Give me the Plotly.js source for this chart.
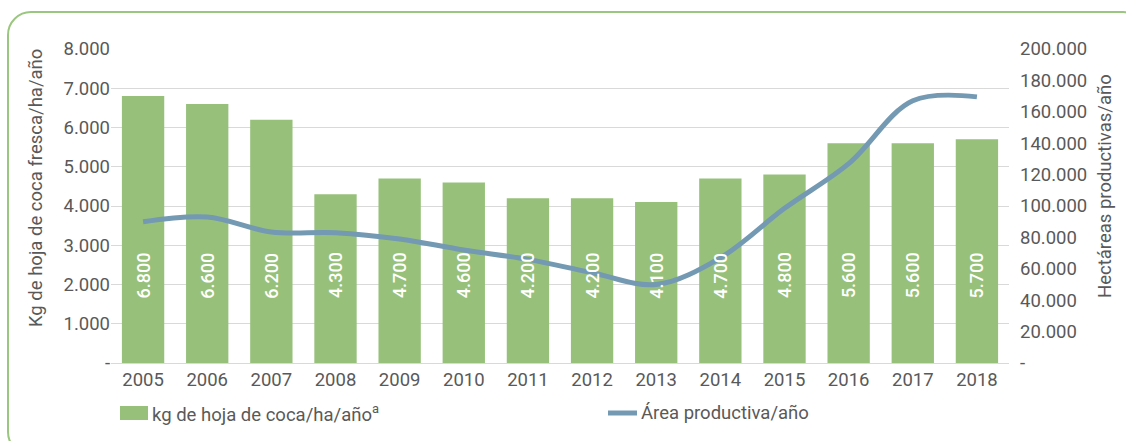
<!DOCTYPE html>
<html><head><meta charset="utf-8">
<script src="https://cdn.plot.ly/plotly-3.0.1.min.js"></script>
<style>
html,body{margin:0;padding:0;background:#fff;overflow:hidden;}
#frame{position:absolute;left:7px;top:11px;width:1140px;height:445px;border:2px solid #9bc67f;border-radius:24px;box-sizing:border-box;}
#chart{position:absolute;left:0;top:0;width:1126px;height:441px;}
</style></head>
<body>
<div id="frame"></div>
<div id="chart"></div>
<script>
var years = [2005,2006,2007,2008,2009,2010,2011,2012,2013,2014,2015,2016,2017,2018];
var kgValues = [6800,6600,6200,4300,4700,4600,4200,4200,4100,4700,4800,5600,5600,5700];
var areaValues = [90000,93000,83500,83000,79000,72000,66000,57500,50000,67000,98500,127000,167000,169500];
var leftTickVals = [0,1000,2000,3000,4000,5000,6000,7000,8000];
var leftTickText = ['-','1.000','2.000','3.000','4.000','5.000','6.000','7.000','8.000'];
var rightTickVals = [0,20000,40000,60000,80000,100000,120000,140000,160000,180000,200000];
var rightTickText = ['-','20.000','40.000','60.000','80.000','100.000','120.000','140.000','160.000','180.000','200.000'];
var barName = 'kg de hoja de coca/ha/año<sup>a</sup>';
var lineName = 'Área productiva/año';
var leftTitle = 'Kg de hoja de coca fresca/ha/año';
var rightTitle = 'Hectáreas productivas/año';

function fmt(v){ return String(v).replace(/\B(?=(\d{3})+(?!\d))/g,'.'); }

var W = 1126, H = 441, L = 111, R = 117, T = 49, B = 78;
function px(x){ return (x - L) / (W - L - R); }
function py(y){ return (H - B - y) / (H - T - B); }

var font = {family:'Roboto, sans-serif', size:18.5, color:'#595959'};

var bars = {
  type:'bar', x:years, y:kgValues, name:barName, width:0.66,
  marker:{color:'#97c17b'}, hoverinfo:'none', showlegend:false
};
var line = {
  type:'scatter', mode:'lines', x:years, y:areaValues, yaxis:'y2', showlegend:false,
  name:lineName, line:{color:'#7399b3', width:5, shape:'spline', smoothing:1}
};

var annotations = years.map(function(yr,i){
  return {x:yr, y:2230, xref:'x', yref:'y', text:fmt(kgValues[i]), textangle:-90,
    showarrow:false, font:{family:'Roboto, sans-serif', size:18, color:'#ffffff', weight:500}};
});
annotations.push({xref:'paper', yref:'paper', x:px(36), y:py(188), text:leftTitle, textangle:-90,
  showarrow:false, font:font, xanchor:'center', yanchor:'middle'});
annotations.push({xref:'paper', yref:'paper', x:px(1105), y:py(186), text:rightTitle, textangle:-90,
  showarrow:false, font:font, xanchor:'center', yanchor:'middle'});
annotations.push({xref:'paper', yref:'paper', x:px(150), y:py(413), text:barName,
  showarrow:false, font:font, xanchor:'left', yanchor:'middle'});
annotations.push({xref:'paper', yref:'paper', x:px(639), y:py(413), text:lineName,
  showarrow:false, font:font, xanchor:'left', yanchor:'middle'});

var shapes = [
  {type:'rect', xref:'paper', yref:'paper', x0:px(120), x1:px(148), y0:py(420), y1:py(406),
    fillcolor:'#97c17b', line:{width:0}},
  {type:'line', xref:'paper', yref:'paper', x0:px(608), x1:px(637), y0:py(413), y1:py(413),
    line:{color:'#7399b3', width:5}}
];

var layout = {
  width:W, height:H,
  margin:{l:L, r:R, t:T, b:B},
  paper_bgcolor:'rgba(0,0,0,0)', plot_bgcolor:'rgba(0,0,0,0)',
  font:font,
  showlegend:false,
  xaxis:{range:[2004.5,2018.5], tickvals:years, ticktext:years.map(String), tickfont:font,
    showgrid:false, showline:true, linecolor:'#d9d9d9', linewidth:1, ticks:'', zeroline:false},
  yaxis:{range:[0,8000], tickvals:leftTickVals, ticktext:leftTickText, tickfont:font,
    gridcolor:'#d9d9d9', gridwidth:1, zeroline:false},
  yaxis2:{range:[0,200000], tickvals:rightTickVals, ticktext:rightTickText, tickfont:font,
    overlaying:'y', side:'right', showgrid:false, zeroline:false, ticklabelstandoff:10},
  annotations:annotations,
  shapes:shapes
};

Plotly.newPlot('chart',[bars,line],layout,{displayModeBar:false, staticPlot:true});
</script>
</body></html>
